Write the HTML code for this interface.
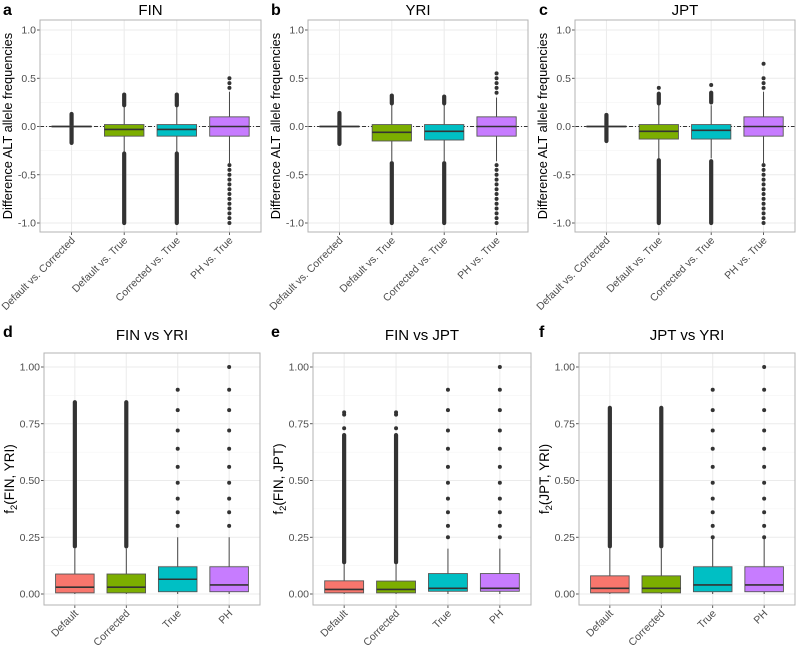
<!DOCTYPE html>
<html><head><meta charset="utf-8">
<style>
body{margin:0;background:#fff;}
svg{display:block;font-family:"Liberation Sans",Arial,sans-serif;}
</style></head>
<body>
<svg id="fig" width="800" height="647" viewBox="0 0 800 647" xmlns="http://www.w3.org/2000/svg"></svg>
<script>
// ---------- DATA ----------
const topCategories = ["Default vs. Corrected","Default vs. True","Corrected vs. True","PH vs. True"];
const botCategories = ["Default","Corrected","True","PH"];
const topTicks = [-1.0,-0.5,0.0,0.5,1.0];
const topTickLabels = ["-1.0","-0.5","0.0","0.5","1.0"];
const botTicks = [0,0.25,0.5,0.75,1.0];
const botTickLabels = ["0.00","0.25","0.50","0.75","1.00"];
const fillColors = ["#F8766D","#7CAE00","#00BFC4","#C77CFF"];

// per panel: [q1, median, q3, whiskerLow, whiskerHigh] for each category
const finStats = [[-0.004,0,0.004,-0.01,0.01],[-0.1,-0.03,0.02,-0.27,0.2],[-0.1,-0.03,0.02,-0.27,0.2],[-0.1,0,0.1,-0.38,0.36]];
const yriStats = [[-0.004,0,0.004,-0.01,0.01],[-0.15,-0.06,0.02,-0.36,0.22],[-0.14,-0.05,0.02,-0.36,0.22],[-0.1,0,0.1,-0.36,0.3]];
const jptStats = [[-0.004,0,0.004,-0.01,0.01],[-0.13,-0.05,0.02,-0.33,0.22],[-0.13,-0.04,0.02,-0.33,0.22],[-0.1,0,0.1,-0.38,0.36]];
// dense outlier runs [min,max]
const finDense = [[[-0.17,0.13]],[[-1,-0.28],[0.22,0.33]],[[-1,-0.28],[0.22,0.33]],[]];
const yriDense = [[[-0.18,0.14]],[[-1,-0.38],[0.24,0.32]],[[-1,-0.38],[0.24,0.31]],[]];
const jptDense = [[[-0.15,0.12]],[[-1,-0.35],[0.24,0.34]],[[-1,-0.36],[0.25,0.35]],[]];
// single outlier points
const finPoints = [[],[],[],[-0.4,-0.45,-0.5,-0.55,-0.6,-0.65,-0.7,-0.75,-0.8,-0.85,-0.9,-0.95,-1,0.4,0.45,0.5]];
const yriPoints = [[],[],[],[-0.4,-0.45,-0.5,-0.55,-0.6,-0.65,-0.7,-0.75,-0.8,-0.85,-0.9,-0.95,-1,0.35,0.4,0.45,0.5,0.55]];
const jptPoints = [[],[0.4],[0.43],[-0.4,-0.45,-0.5,-0.55,-0.6,-0.65,-0.7,-0.75,-0.8,-0.85,-0.9,-0.95,-1,0.4,0.45,0.5,0.65]];

const fyStats = [[0.005,0.03,0.088,0,0.2],[0.005,0.03,0.088,0,0.2],[0.01,0.065,0.12,0,0.25],[0.01,0.04,0.12,0,0.25]];
const fjStats = [[0.005,0.02,0.058,0,0.13],[0.005,0.02,0.057,0,0.13],[0.012,0.025,0.09,0,0.2],[0.012,0.025,0.09,0,0.2]];
const jyStats = [[0.005,0.025,0.08,0,0.2],[0.005,0.025,0.08,0,0.2],[0.01,0.04,0.12,0,0.25],[0.01,0.04,0.12,0,0.25]];
const fyDense = [[[0.21,0.845]],[[0.21,0.845]],[],[]];
const fjDense = [[[0.14,0.7]],[[0.14,0.7]],[],[]];
const jyDense = [[[0.21,0.82]],[[0.21,0.82]],[],[]];
const fyPoints = [[],[],[0.30,0.36,0.42,0.49,0.56,0.64,0.72,0.81,0.90],[0.30,0.36,0.42,0.49,0.56,0.64,0.72,0.81,0.90,1.0]];
const fjPoints = [[0.73,0.79,0.80],[0.73,0.79,0.80],[0.25,0.30,0.36,0.42,0.49,0.56,0.64,0.72,0.81,0.90],[0.25,0.30,0.36,0.42,0.49,0.56,0.64,0.72,0.81,0.90,1.0]];
const jyPoints = [[],[],[0.25,0.30,0.36,0.42,0.49,0.56,0.64,0.72,0.81,0.90],[0.25,0.30,0.36,0.42,0.49,0.56,0.64,0.72,0.81,0.90,1.0]];

// ---------- RENDER ----------
const NS="http://www.w3.org/2000/svg";
const svg=document.getElementById('fig');
function el(tag,attrs,parent,text){const e=document.createElementNS(NS,tag);for(const k in attrs)e.setAttribute(k,attrs[k]);if(text!==undefined)e.textContent=text;(parent||svg).appendChild(e);return e;}

function panel(o){
  const g=el('g',{});
  
  
  const {x0,x1,y0,y1,dmin,dmax}=o;
  const yS=v=>o.yBottom+(v-dmin)/(dmax-dmin)*(o.yTop-o.yBottom);
  const unit=(x1-x0)/4.2;
  const xS=i=>x0+(0.6+i)*unit;
  el('rect',{x:x0,y:y0,width:x1-x0,height:y1-y0,fill:'#fff'},g);
  for(let i=0;i<o.ticks.length-1;i++){const v=(o.ticks[i]+o.ticks[i+1])/2;el('line',{x1:x0,x2:x1,y1:yS(v),y2:yS(v),stroke:'#f2f2f2','stroke-width':0.6},g);}
  o.ticks.forEach((t,i)=>{
    const y=yS(t);
    el('line',{x1:x0,x2:x1,y1:y,y2:y,stroke:'#ebebeb','stroke-width':1},g);
    const tl=el('text',{x:x0-4,y:y+3.5,'text-anchor':'end','font-size':10.5,fill:'#4d4d4d'},g,o.tickLabels[i]);
    
    
    el('line',{x1:x0-3,x2:x0,y1:y,y2:y,stroke:'#333','stroke-width':0.8},g);
  });
  o.cats.forEach((c,i)=>el('line',{x1:xS(i),x2:xS(i),y1:y0,y2:y1,stroke:'#ebebeb','stroke-width':1},g));
  if(o.zeroLine){el('line',{x1:x0,x2:x1,y1:yS(0),y2:yS(0),stroke:'#333','stroke-width':0.9,'stroke-dasharray':'4,2,1,2'},g);}
  const bw=0.75*unit;
  o.cats.forEach((c,i)=>{
    const s=o.stats[i],cx=xS(i);
    const bg=el('g',{},g);
    
    
    el('line',{x1:cx,x2:cx,y1:yS(s[3]),y2:yS(s[4]),stroke:'#333','stroke-width':0.9},bg);
    o.dense[i].forEach(r=>el('line',{x1:cx,x2:cx,y1:yS(r[0]),y2:yS(r[1]),stroke:'#333','stroke-width':4.2,'stroke-linecap':'round'},bg));
    o.points[i].forEach(v=>el('circle',{cx:cx,cy:yS(v),r:2,fill:'#333'},bg));
    el('rect',{x:cx-bw/2,y:yS(s[2]),width:bw,height:Math.max(0.5,yS(s[0])-yS(s[2])),fill:fillColors[i],stroke:'#555','stroke-width':0.9},bg);
    el('line',{x1:cx-bw/2,x2:cx+bw/2,y1:yS(s[1]),y2:yS(s[1]),stroke:'#333','stroke-width':1.6},bg);
    el('line',{x1:cx,x2:cx,y1:y1,y2:y1+3,stroke:'#333','stroke-width':0.8},g);
    const tx=cx+4,ty=y1+9;
    const xl=el('text',{x:tx,y:ty,'text-anchor':'end','font-size':10.5,fill:'#4d4d4d',transform:`rotate(-45 ${tx} ${ty})`},g,c);
    
    
  });
  el('rect',{x:x0,y:y0,width:x1-x0,height:y1-y0,fill:'none',stroke:'#b3b3b3','stroke-width':1},g);
  const tt=el('text',{x:(x0+x1)/2,y:o.titleY,'text-anchor':'middle','font-size':15,fill:'#000'},g,o.title);
  
  
  const lt=el('text',{x:o.letterX,y:o.letterY,'font-size':16,'font-weight':'bold',fill:'#000'},g,o.letter);
  
  
  const ymid=(y0+y1)/2, tx=o.ytitleX;
  const yt=el('text',{x:tx,y:ymid,'text-anchor':'middle','font-size':o.ytitle2?13.5:12.8,fill:'#000',transform:`rotate(-90 ${tx} ${ymid})`},g);
  
  
  if(o.ytitle2){
    el('tspan',{},yt,'f');
    el('tspan',{'font-size':9.5,dy:3},yt,'2');
    el('tspan',{dy:-3},yt,o.ytitle2);
  } else yt.textContent=o.ytitle;
}

const topBase={y0:20,y1:232,dmin:-1,dmax:1,yBottom:223,yTop:30,ticks:topTicks,tickLabels:topTickLabels,cats:topCategories,zeroLine:true,titleY:15,letterY:15,ytitle:'Difference ALT allele frequencies'};
panel(Object.assign({},topBase,{name:'panel-a-fin',x0:40,x1:261,title:'FIN',letter:'a',letterX:3,ytitleX:12,stats:finStats,dense:finDense,points:finPoints}));
panel(Object.assign({},topBase,{name:'panel-b-yri',x0:308,x1:528,title:'YRI',letter:'b',letterX:271,ytitleX:280,stats:yriStats,dense:yriDense,points:yriPoints}));
panel(Object.assign({},topBase,{name:'panel-c-jpt',x0:575,x1:795,title:'JPT',letter:'c',letterX:539,ytitleX:547,stats:jptStats,dense:jptDense,points:jptPoints}));

const botBase={y0:353,y1:605,dmin:0,dmax:1,yBottom:594,yTop:367,ticks:botTicks,tickLabels:botTickLabels,cats:botCategories,zeroLine:false,titleY:340,letterY:337};
panel(Object.assign({},botBase,{name:'panel-d-fin-yri',x0:44,x1:260,title:'FIN vs YRI',letter:'d',letterX:3,ytitleX:14,ytitle2:'(FIN, YRI)',stats:fyStats,dense:fyDense,points:fyPoints}));
panel(Object.assign({},botBase,{name:'panel-e-fin-jpt',x0:313,x1:531,title:'FIN vs JPT',letter:'e',letterX:271,ytitleX:283,ytitle2:'(FIN, JPT)',stats:fjStats,dense:fjDense,points:fjPoints}));
panel(Object.assign({},botBase,{name:'panel-f-jpt-yri',x0:579,x1:795,title:'JPT vs YRI',letter:'f',letterX:539,ytitleX:549,ytitle2:'(JPT, YRI)',stats:jyStats,dense:jyDense,points:jyPoints}));
</script>
</body></html>
